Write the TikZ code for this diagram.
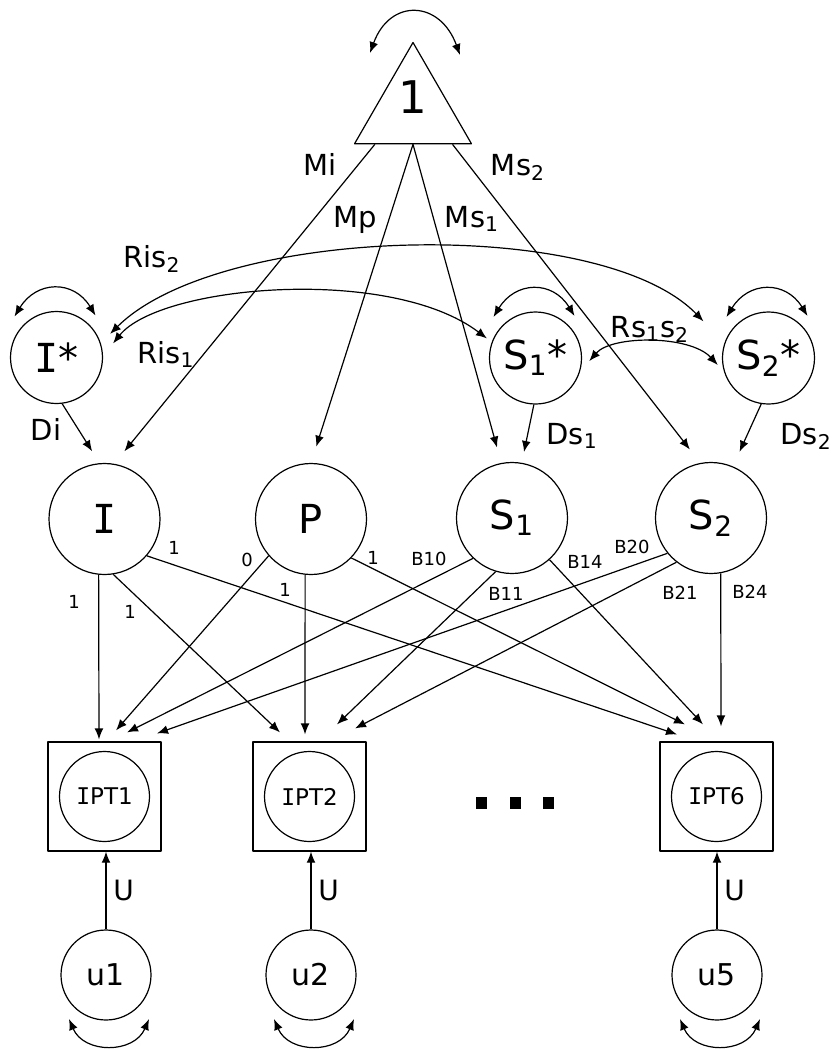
\documentclass[tikz,border=0pt]{standalone}
\usepackage{fontspec}
\setmainfont{DejaVu Sans}
\newfontfamily\serIfont{DejaVu Sans Mono}
\newcommand\serI{{\serIfont I}}
\usetikzlibrary{arrows.meta,shapes.geometric}

\begin{document}
\begin{tikzpicture}[x=0.5pt,y=-0.5pt,line width=0.6pt,line join=round,
		>={Latex[length=5.5pt,width=4.4pt]},
		lat/.style={circle,draw,minimum size=55.5pt,inner sep=0pt,font=\fontsize{20}{24}\selectfont},
		resid/.style={circle,draw,minimum size=46pt,inner sep=0pt,font=\fontsize{20}{24}\selectfont},
		obs/.style={draw,minimum width=56.5pt,minimum height=54.5pt,inner sep=0pt},
		ind/.style={circle,draw,minimum size=45pt,inner sep=0pt,font=\fontsize{11.5}{14}\selectfont},
		err/.style={circle,draw,minimum size=45pt,inner sep=0pt,font=\fontsize{15}{18}\selectfont},
		pname/.style={font=\fontsize{14.5}{17}\selectfont,anchor=base,inner sep=0pt},
		wt/.style={font=\fontsize{9}{11}\selectfont,anchor=base,inner sep=0pt},
		cov/.style={<->},
		gap/.style={shorten >=#1}]
	\useasboundingbox (0,0) rectangle (839,1050);
	
	% --- Hằng số 1 ---
	\node[regular polygon,regular polygon sides=3,draw,minimum size=67.5pt,inner sep=0pt,
		label={[font=\fontsize{22.5}{26}\selectfont,yshift=6.5pt]center:1}] (one) at (413,110) {};
	\draw[cov] ([shift={(-43,-57)}]one.center) .. controls +(20,-55) and +(-20,-55) .. ([shift={(47,-55)}]one.center);
	
	% --- Các biến ẩn ---
	\node[resid] (istar) at (56.5,357.5) {\serI*};
	\node[resid] (s1star) at (535.5,358) {S\textsubscript{1}*};
	\node[resid] (s2star) at (768.5,358) {S\textsubscript{2}*};
	\node[lat] (I) at (104.5,519) {\serI};
	\node[lat] (P) at (311,519) {P};
	\node[lat] (S1) at (512,518) {S\textsubscript{1}};
	\node[lat] (S2) at (711,518) {S\textsubscript{2}};
	
	\foreach \n in {istar,s1star,s2star}
		\draw[cov] ([shift={(-42,-41)}]\n.center) .. controls +(22,-36) and +(-22,-36) .. ([shift={(39,-42)}]\n.center);
	
	% --- Trung bình ---
	\draw[->,gap=8pt] (one.222) -- (I.80);
	\draw[->,gap=8.5pt] (one.270) -- (P.90);
	\draw[->,gap=8pt] (one.270) -- (S1.101);
	\draw[->,gap=8.5pt] (one.319) -- (S2.101);
	\node[pname] (mi) at (320,175) {Mi};
	\node[pname] (mp) at (355,227) {Mp};
	\node[pname] (ms1) at (472,227) {Ms\textsubscript{1}};
	\node[pname] (ms2) at (518,175) {Ms\textsubscript{2}};
	
	% --- Hiệp phương sai ---
	\draw[cov,shorten <=6.5pt,shorten >=15pt] (istar.18) .. controls (220,225) and (600,215) .. (s2star.161);
	\draw[cov,shorten <=8pt,shorten >=3pt] (istar.2) .. controls (160,285) and (390,265) .. (s1star.160);
	\draw[cov,shorten <=7pt,shorten >=4.5pt] (s1star.343) .. controls (612,335) and (690,335) .. (s2star.197);
	\node[pname] (ris2) at (152,267) {Ris\textsubscript{2}};
	\node[pname] (ris1) at (166,363) {Ris\textsubscript{1}};
	\node[pname] (rss) at (650,337) {Rs\textsubscript{1}s\textsubscript{2}};
	
	\draw[->,gap=7pt] (istar.277) -- (I.95);
	\draw[->,gap=5.5pt] (s1star.268) -- (S1.80);
	\draw[->,gap=8pt] (s2star.261) -- (S2.67);
	\node[pname] (di) at (46,440) {Di};
	\node[pname] (ds1) at (572,444) {Ds\textsubscript{1}};
	\node[pname] (ds2) at (806,444) {Ds\textsubscript{2}};
	
	% --- Biến quan sát ---
	\node[obs] (ipt1) at (104.5,796.5) {};
	\node[obs] (ipt2) at (309.5,796.5) {};
	\node[obs] (ipt6) at (716.5,796.5) {};
	\node[ind] (c1) at (ipt1.center) {\serI PT1};
	\node[ind] (c2) at (ipt2.center) {\serI PT2};
	\node[ind] (c6) at (ipt6.center) {\serI PT6};
	\foreach \x in {481,515,548}
		\fill (\x-5.5,797) rectangle (\x+5.5,809);
	
	% --- Hệ số tải ---
	\draw[->] (I.264) -- ([shift={(-5.5,-2)}]ipt1.north);
	\draw[->] (I.279) -- ([shift={(-29.5,-9)}]ipt2.north);
	\draw[->] (I.319) -- ([shift={(-39.5,-7)}]ipt6.north);
	\draw[->] (P.221) -- ([shift={(11.5,-11)}]ipt1.north);
	\draw[->] (P.264) -- ([shift={(-4.5,-7)}]ipt2.north);
	\draw[->] (P.316) -- ([shift={(-31.5,-17)}]ipt6.north);
	\draw[->] (S1.226) -- ([shift={(22.5,-9)}]ipt1.north);
	\draw[->] (S1.253) -- ([shift={(27.5,-17)}]ipt2.north);
	\draw[->] (S1.312) -- ([shift={(-13.5,-17)}]ipt6.north);
	\draw[->] (S2.219) -- ([shift={(52.5,-8)}]ipt1.north);
	\draw[->] (S2.232) -- ([shift={(45.5,-13)}]ipt2.north);
	\draw[->] (S2.280) -- ([shift={(4.5,-15)}]ipt6.north);
	
	\node[wt] (w1) at (74,608) {1};
	\node[wt] (w2) at (130,618) {1};
	\node[wt] (w3) at (174,554) {1};
	\node[wt] (w4) at (247,566) {0};
	\node[wt] (w5) at (285,596) {1};
	\node[wt] (w6) at (373,564) {1};
	\node[wt] (b10) at (429,565) {B10};
	\node[wt] (b11) at (506,600) {B11};
	\node[wt] (b14) at (585,568) {B14};
	\node[wt] (b20) at (632,553) {B20};
	\node[wt] (b21) at (680,599) {B21};
	\node[wt] (b24) at (750,598) {B24};
	
	% --- Sai số ---
	\node[err] (u1) at (106,975) {u1};
	\node[err] (u2) at (311,975) {u2};
	\node[err] (u5) at (717,975) {u5};
	\foreach \u/\o in {u1/ipt1,u2/ipt2,u5/ipt6}{
		\draw[->] (\u) -- (\u |- \o.south) node[midway,right,font=\fontsize{14}{17}\selectfont] (l\u) {U};
		\draw[cov] ([shift={(-37,44)}]\u.center) .. controls +(15,35) and +(-15,35) .. ([shift={(43,44)}]\u.center);
	}
\end{tikzpicture}
\end{document}
